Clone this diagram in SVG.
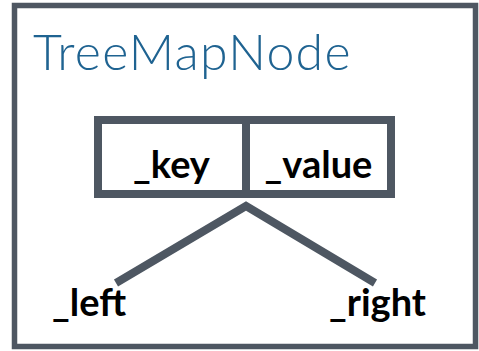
<svg xmlns="http://www.w3.org/2000/svg" width="479" height="351" viewBox="0 0 479 351">
<style>
.b{fill:none;stroke:#4e5762;}
.t{font-family:Lato,"Open Sans",sans-serif;font-weight:bold;font-size:38px;fill:#000;}
</style>
<rect width="479" height="351" fill="#fff"/>
<g id="treemapnode">
<rect class="b" x="14.5" y="5.5" width="461" height="341" stroke-width="5.5"/>
<text x="33" y="70" font-family="Lato,'Open Sans',sans-serif" font-weight="300" font-size="50" letter-spacing="1.3" fill="#1f6391">TreeMapNode</text>
</g>
<g id="fields">
<rect class="b" x="98" y="120" width="293" height="74" stroke-width="8"/>
<line class="b" x1="246" y1="120" x2="246" y2="194" stroke-width="8"/>
<text class="t" x="171.5" y="178" text-anchor="middle">_key</text>
<text class="t" x="318.5" y="178" text-anchor="middle">_value</text>
</g>
<g id="connectors">
<polyline class="b" points="116,283 246,206 375,283" stroke-width="8"/>
</g>
<g id="left"><text class="t" x="89" y="316" text-anchor="middle">_left</text></g>
<g id="right"><text class="t" x="377.5" y="316" text-anchor="middle">_right</text></g>
</svg>
